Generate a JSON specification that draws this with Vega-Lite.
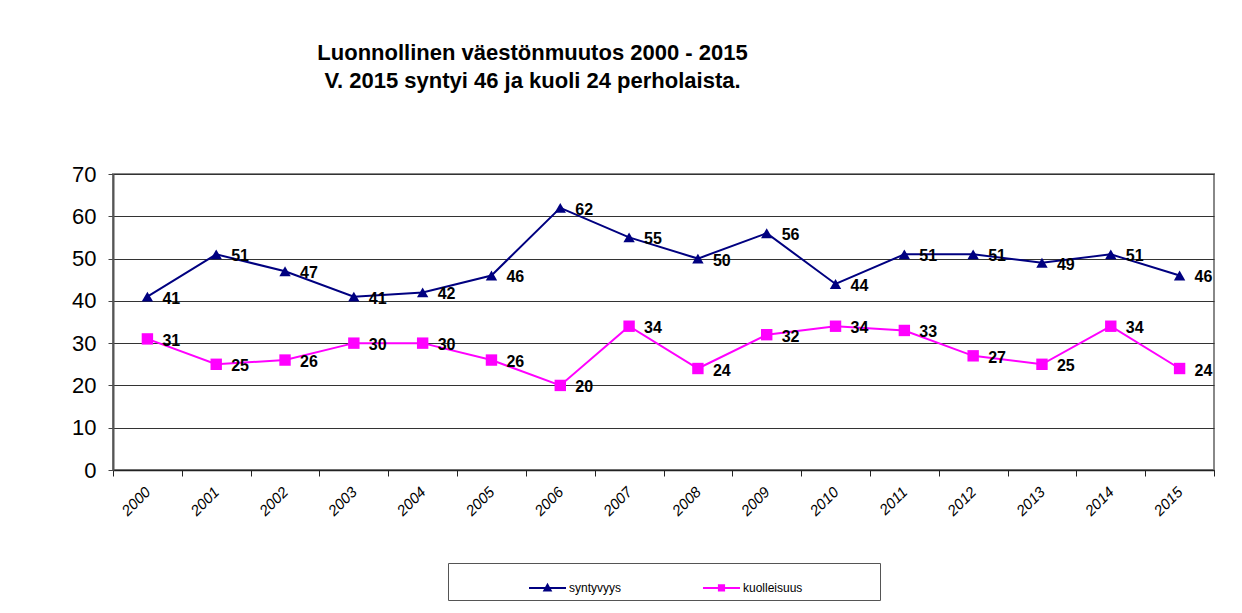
{
  "$schema": "https://vega.github.io/schema/vega-lite/v6.json",
  "autosize": "none",
  "width": 1101,
  "height": 296,
  "padding": {"left": 113, "top": 174, "right": 28, "bottom": 143},
  "background": "white",
  "title": {
    "text": ["Luonnollinen väestönmuutos 2000 - 2015", "V. 2015 syntyi 46 ja kuoli 24 perholaista."],
    "font": "Liberation Sans",
    "fontSize": 22,
    "fontWeight": "bold",
    "lineHeight": 28,
    "anchor": "middle",
    "dx": -131,
    "offset": 70,
    "color": "black"
  },
  "data": {
    "values": [
      {"year": "2000", "series": "syntyvyys", "value": 41},
      {"year": "2001", "series": "syntyvyys", "value": 51},
      {"year": "2002", "series": "syntyvyys", "value": 47},
      {"year": "2003", "series": "syntyvyys", "value": 41},
      {"year": "2004", "series": "syntyvyys", "value": 42},
      {"year": "2005", "series": "syntyvyys", "value": 46},
      {"year": "2006", "series": "syntyvyys", "value": 62},
      {"year": "2007", "series": "syntyvyys", "value": 55},
      {"year": "2008", "series": "syntyvyys", "value": 50},
      {"year": "2009", "series": "syntyvyys", "value": 56},
      {"year": "2010", "series": "syntyvyys", "value": 44},
      {"year": "2011", "series": "syntyvyys", "value": 51},
      {"year": "2012", "series": "syntyvyys", "value": 51},
      {"year": "2013", "series": "syntyvyys", "value": 49},
      {"year": "2014", "series": "syntyvyys", "value": 51},
      {"year": "2015", "series": "syntyvyys", "value": 46},
      {"year": "2000", "series": "kuolleisuus", "value": 31},
      {"year": "2001", "series": "kuolleisuus", "value": 25},
      {"year": "2002", "series": "kuolleisuus", "value": 26},
      {"year": "2003", "series": "kuolleisuus", "value": 30},
      {"year": "2004", "series": "kuolleisuus", "value": 30},
      {"year": "2005", "series": "kuolleisuus", "value": 26},
      {"year": "2006", "series": "kuolleisuus", "value": 20},
      {"year": "2007", "series": "kuolleisuus", "value": 34},
      {"year": "2008", "series": "kuolleisuus", "value": 24},
      {"year": "2009", "series": "kuolleisuus", "value": 32},
      {"year": "2010", "series": "kuolleisuus", "value": 34},
      {"year": "2011", "series": "kuolleisuus", "value": 33},
      {"year": "2012", "series": "kuolleisuus", "value": 27},
      {"year": "2013", "series": "kuolleisuus", "value": 25},
      {"year": "2014", "series": "kuolleisuus", "value": 34},
      {"year": "2015", "series": "kuolleisuus", "value": 24}
    ]
  },
  "encoding": {
    "x": {
      "field": "year",
      "type": "nominal",
      "bandPosition": 0.5,
      "scale": {"type": "band", "paddingInner": 0, "paddingOuter": 0},
      "axis": {
        "title": null,
        "tickBand": "extent",
        "labelAngle": -45,
        "labelAlign": "right",
        "labelBaseline": "middle",
        "labelFont": "Liberation Sans",
        "labelFontStyle": "italic",
        "labelFontSize": 15,
        "labelColor": "black",
        "labelPadding": 13,
        "tickSize": 6,
        "tickColor": "#222",
        "domainColor": "#222",
        "domainWidth": 1.5,
        "grid": false
      }
    },
    "y": {
      "field": "value",
      "type": "quantitative",
      "scale": {"domain": [0, 70], "nice": false},
      "axis": {
        "title": null,
        "values": [0, 10, 20, 30, 40, 50, 60, 70],
        "labelFont": "Liberation Sans",
        "labelFontSize": 22,
        "labelColor": "black",
        "labelPadding": 12,
        "tickSize": 5,
        "tickColor": "#444",
        "domainColor": "#555",
        "domainWidth": 2,
        "grid": true,
        "gridColor": "#333",
        "gridWidth": 1
      }
    }
  },
  "layer": [
    {
      "mark": {"type": "line", "strokeWidth": 2},
      "encoding": {
        "color": {
          "field": "series",
          "type": "nominal",
          "scale": {"domain": ["syntyvyys", "kuolleisuus"], "range": ["#000080", "#FF00FF"]},
          "legend": {
            "title": " ",
            "titleOrient": "right",
            "titlePadding": 73,
            "orient": "none",
            "direction": "horizontal",
            "legendX": 335,
            "legendY": 389,
            "padding": 5,
            "strokeColor": "#555",
            "fillColor": "white",
            "labelFont": "Liberation Sans",
            "labelFontSize": 12,
            "labelColor": "black",
            "labelOffset": 2,
            "columnPadding": 5,
            "symbolOffset": 75,
            "symbolSize": 1369,
            "symbolType": "M-1,0H1M-0.17,0.14L0,-0.17L0.17,0.14Z",
            "encode": {
              "symbols": {
                "update": {
                  "shape": {"signal": "datum.value === 'syntyvyys' ? 'M-1,0H1M-0.17,0.14L0,-0.17L0.17,0.14Z' : 'M-1,0H1M-0.14,-0.14H0.14V0.14H-0.14Z'"},
                  "fill": {"scale": "color", "field": "value"},
                  "stroke": {"scale": "color", "field": "value"},
                  "strokeWidth": {"value": 2},
                  "opacity": {"value": 1}
                }
              }
            }
          }
        }
      }
    },
    {
      "mark": {"type": "point", "filled": true, "opacity": 1},
      "encoding": {
        "color": {"field": "series", "type": "nominal"},
        "shape": {
          "condition": {"test": "datum.series === 'syntyvyys'", "value": "triangle-up"},
          "value": "square"
        },
        "size": {"value": 130}
      }
    },
    {
      "mark": {
        "type": "text",
        "align": "left",
        "baseline": "middle",
        "dx": 15,
        "dy": 2,
        "font": "Liberation Sans",
        "fontSize": 16,
        "fontWeight": "bold",
        "color": "black"
      },
      "encoding": {
        "text": {"field": "value", "type": "quantitative"}
      }
    }
  ],
  "config": {
    "view": {"stroke": "#888", "strokeWidth": 2}
  }
}
